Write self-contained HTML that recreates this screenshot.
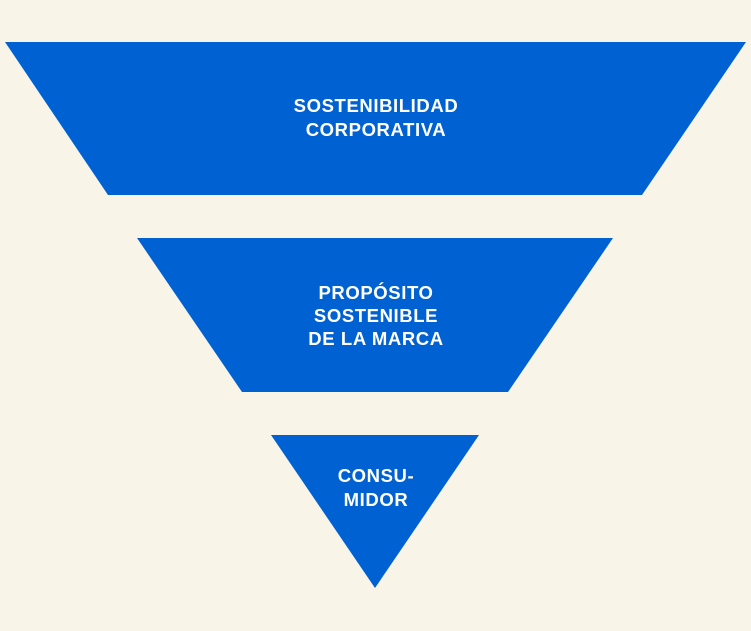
<!DOCTYPE html>
<html><head><meta charset="utf-8"><style>
html,body{margin:0;padding:0;background:#F8F4E8;width:751px;height:631px;overflow:hidden}
svg{display:block}
text{font-family:"Liberation Sans",Arial,sans-serif;font-weight:bold;font-size:18.5px;letter-spacing:0.6px;fill:#fff;text-anchor:middle}
</style></head><body>
<svg width="751" height="631" viewBox="0 0 751 631">
<polygon points="5,42 746,42 642,195 108,195" fill="#0062D2"/>
<polygon points="137,238 613,238 508,392 242,392" fill="#0062D2"/>
<polygon points="271,435 479,435 375,588" fill="#0062D2"/>
<text x="376" y="112">SOSTENIBILIDAD</text>
<text x="376" y="136">CORPORATIVA</text>
<text x="376" y="299">PROPÓSITO</text>
<text x="376" y="322">SOSTENIBLE</text>
<text x="376" y="345">DE LA MARCA</text>
<text x="376" y="482">CONSU-</text>
<text x="376" y="506">MIDOR</text>
</svg>
</body></html>
